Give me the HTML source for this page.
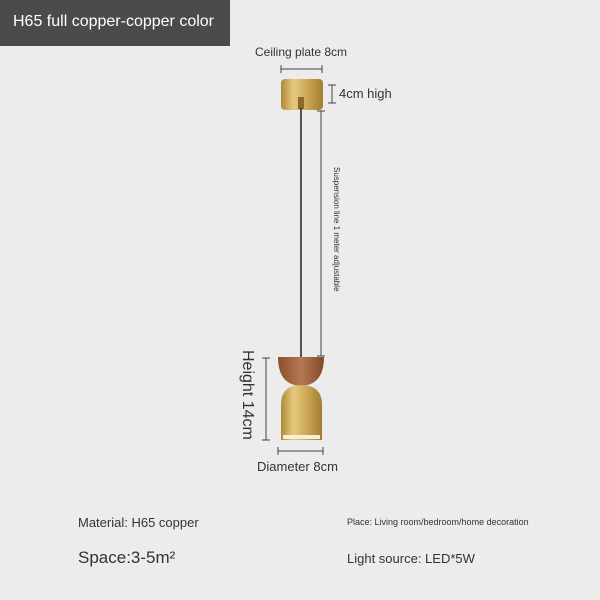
<!DOCTYPE html>
<html><head><meta charset="utf-8"><style>
body{margin:0;width:600px;height:600px;background:#ececec;position:relative;overflow:hidden;font-family:"Liberation Sans",sans-serif;color:#333}
.t{position:absolute;white-space:nowrap}
</style></head><body>
<div style="position:absolute;left:0;top:0;width:230px;height:46px;background:#4b4b4b"></div>
<div class="t" style="left:13px;top:13px;font-size:16px;color:#fff">H65 full copper-copper color</div>
<svg width="600" height="600" style="position:absolute;left:0;top:0">
<defs>
<linearGradient id="b" x1="0" x2="1"><stop offset="0" stop-color="#b08a38"/><stop offset=".3" stop-color="#e6c97f"/><stop offset=".6" stop-color="#d0aa58"/><stop offset="1" stop-color="#a07d30"/></linearGradient>
<linearGradient id="w" x1="0" x2="1"><stop offset="0" stop-color="#8a4f2c"/><stop offset=".5" stop-color="#b57a52"/><stop offset="1" stop-color="#804a2a"/></linearGradient>
</defs>
<g stroke="#444" stroke-width="1" fill="none">
<line x1="281" y1="69" x2="322" y2="69"/><line x1="281" y1="65" x2="281" y2="73"/><line x1="322" y1="65" x2="322" y2="73"/>
<line x1="332" y1="85" x2="332" y2="103"/><line x1="328" y1="85" x2="336" y2="85"/><line x1="328" y1="103" x2="336" y2="103"/>
<line x1="321" y1="111" x2="321" y2="356"/><line x1="317" y1="111" x2="325" y2="111"/><line x1="317" y1="356" x2="325" y2="356"/>
<line x1="266" y1="358" x2="266" y2="440"/><line x1="262" y1="358" x2="270" y2="358"/><line x1="262" y1="440" x2="270" y2="440"/>
<line x1="278" y1="451" x2="323" y2="451"/><line x1="278" y1="447" x2="278" y2="455"/><line x1="323" y1="447" x2="323" y2="455"/>
</g>
<rect x="281" y="79" width="42" height="31" rx="4" fill="url(#b)"/>
<rect x="298" y="97" width="6" height="12" fill="#8a6a2a"/>
<line x1="301" y1="108" x2="301" y2="358" stroke="#222" stroke-width="1.5"/>
<path d="M278 357 L324 357 Q324 385 301 386 Q278 385 278 357Z" fill="url(#w)"/>
<path d="M281 440 L281 405 Q281 385 301 385 Q322 385 322 405 L322 440Z" fill="url(#b)"/>
<rect x="283" y="435" width="37" height="4" fill="#f6eed8"/>
</svg>
<div class="t" style="left:255px;top:45px;font-size:12px">Ceiling plate 8cm</div>
<div class="t" style="left:339px;top:86px;font-size:13px">4cm high</div>
<div class="t" style="left:333px;top:167px;font-size:8px;transform-origin:0 0;transform:translate(8px,0) rotate(90deg)">Suspension line 1 meter adjustable</div>
<div class="t" style="left:236px;top:350px;font-size:16px;transform-origin:0 0;transform:translate(20px,0) rotate(90deg)">Height 14cm</div>
<div class="t" style="left:257px;top:459px;font-size:13px">Diameter 8cm</div>
<div class="t" style="left:78px;top:515px;font-size:13px">Material: H65 copper</div>
<div class="t" style="left:78px;top:548px;font-size:17px">Space:3-5m²</div>
<div class="t" style="left:347px;top:517px;font-size:9px">Place: Living room/bedroom/home decoration</div>
<div class="t" style="left:347px;top:551px;font-size:13px">Light source: LED*5W</div>
</body></html>
